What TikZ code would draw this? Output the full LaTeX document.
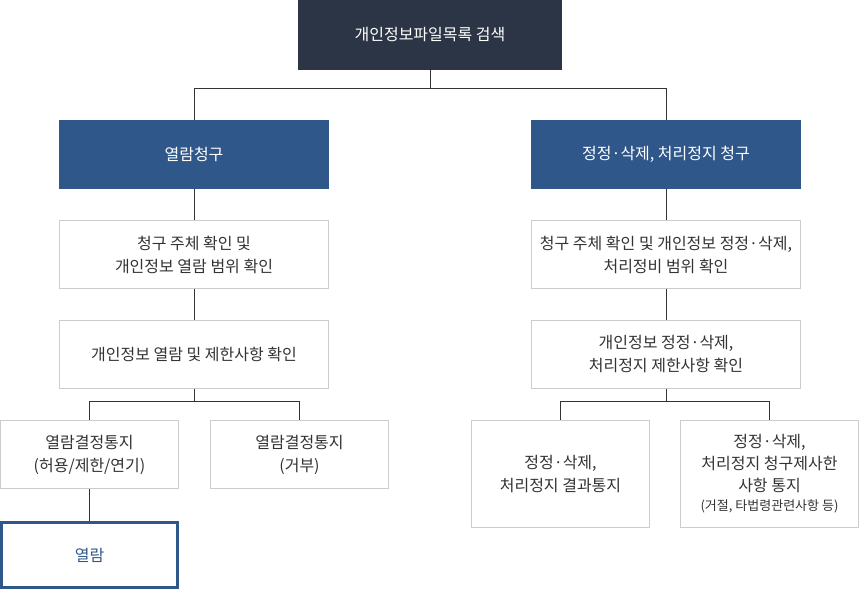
\documentclass[tikz,border=0pt]{standalone}
\usepackage{fontspec}
\setmainfont{Noto Sans CJK KR}
\definecolor{topfill}{HTML}{2C3545}
\definecolor{bluefill}{HTML}{30578A}
\definecolor{graybd}{HTML}{CCCCCC}
\definecolor{txt}{HTML}{333333}
\definecolor{linec}{HTML}{333333}
\tikzset{
  x=1pt, y=-1pt,
  base/.style={rectangle, inner sep=0pt, align=center, font=\fontsize{16}{23}\selectfont},
  topbox/.style={base, fill=topfill, text=white, minimum width=264pt, minimum height=70pt},
  reqbox/.style={base, fill=bluefill, text=white, minimum width=270pt, minimum height=69pt},
  stepbox/.style={base, fill=white, draw=graybd, line width=1pt, text=txt, minimum width=269pt, minimum height=68pt},
  notebox/.style={base, fill=white, draw=graybd, line width=1pt, text=txt, minimum width=178pt, minimum height=68pt},
  tallbox/.style={base, fill=white, draw=graybd, line width=1pt, text=txt, minimum width=178pt, minimum height=107pt},
  viewbox/.style={base, fill=white, draw=bluefill, line width=3pt, text=bluefill, minimum width=176pt, minimum height=65pt},
  conn/.style={draw=linec, line width=1pt}
}
\begin{document}
\begin{tikzpicture}
\useasboundingbox (0,0) rectangle (860,591);
\node[topbox] (top) at (430,35) {개인정보파일목록 검색};
\node[reqbox] (reqL) at (194,154.5) {열람청구};
\node[reqbox] (reqR) at (666,154.5) {정정·삭제, 처리정지 청구};
\node[stepbox] (L1) at (194,254.5) {청구 주체 확인 및\\개인정보 열람 범위 확인};
\node[stepbox] (L2) at (194,354.5) {개인정보 열람 및 제한사항 확인};
\node[stepbox] (R1) at (666,254.5) {청구 주체 확인 및 개인정보 정정·삭제,\\처리정비 범위 확인};
\node[stepbox] (R2) at (666,354.5) {개인정보 정정·삭제,\\처리정지 제한사항 확인};
\node[notebox] (LL) at (89.5,454.5) {열람결정통지\\(허용/제한/연기)};
\node[notebox] (LR) at (299.5,454.5) {열람결정통지\\(거부)};
\node[viewbox] (view) at (89.5,555) {열람};
\node[tallbox] (RL) at (560.5,474) {정정·삭제,\\처리정지 결과통지};
\node[tallbox, font=\fontsize{16}{22}\selectfont] (RR) at (769.5,474) {정정·삭제,\\처리정지 청구제사한\\사항 통지\\[-3pt]{\fontsize{13}{16}\selectfont (거절, 타법령관련사항 등)}};
\draw[conn] (top.south) -- ++(0,18) -| (reqL.north);
\draw[conn] (top.south) -- ++(0,18) -| (reqR.north);
\draw[conn] (reqL.south) -- (L1.north);
\draw[conn] (L1.south) -- (L2.north);
\draw[conn] (reqR.south) -- (R1.north);
\draw[conn] (R1.south) -- (R2.north);
\draw[conn] (L2.south) -- ++(0,12) -| (LL.north);
\draw[conn] (L2.south) -- ++(0,12) -| (LR.north);
\draw[conn] (LL.south) -- (view.north);
\draw[conn] (R2.south) -- ++(0,12) -| (RL.north);
\draw[conn] (R2.south) -- ++(0,12) -| (RR.north);
\end{tikzpicture}
\end{document}
